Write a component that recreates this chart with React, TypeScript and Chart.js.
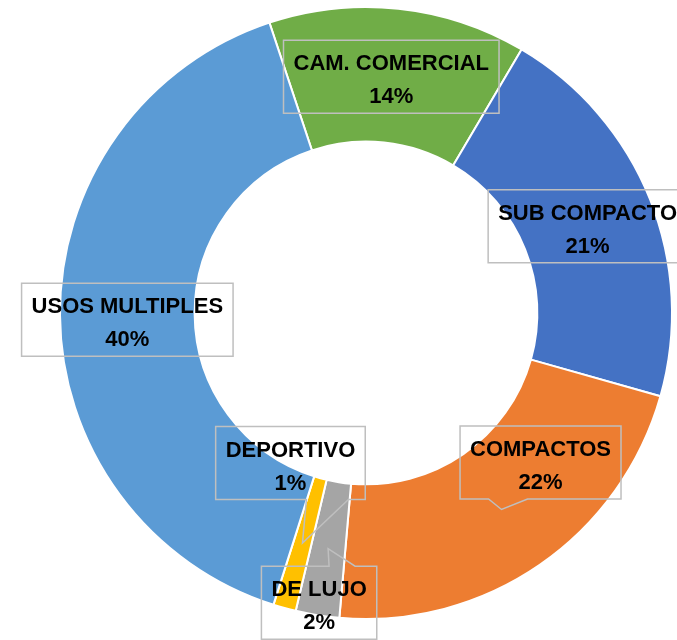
import React, { useEffect, useRef } from "react";
import { Chart, registerables } from "chart.js";

Chart.register(...registerables);

const categories = ["CAM. COMERCIAL", "SUB COMPACTO", "COMPACTOS", "DE LUJO", "DEPORTIVO", "USOS MULTIPLES"];
const values = [13.6, 20.9, 22.0, 2.3, 1.2, 40.0];
const colors = ["#70AD47", "#4472C4", "#ED7D31", "#A5A5A5", "#FFC000", "#5B9BD5"];

// label box layout: offset of box center from the slice's center point, and callout pointer
const labelLayout = [
  { dx: 0, dy: 1, pointer: null },
  { dx: 0, dy: 2, pointer: null },
  { dx: 39, dy: -47, pointer: { side: "bottom", from: -13, to: 26 } },
  { dx: -9, dy: 54, pointer: { side: "top", from: 1, to: 27 } },
  { dx: -12, dy: -80, pointer: { side: "bottom", from: 4, to: 46 } },
  { dx: 0, dy: 5, pointer: null },
];

const FONT = "bold 22px 'Liberation Sans', Arial, sans-serif";

const calloutPlugin = {
  id: "calloutLabels",
  afterDatasetsDraw(chart: any) {
    const ctx = chart.ctx;
    const meta = chart.getDatasetMeta(0);
    const data = chart.data.datasets[0].data as number[];
    const total = data.reduce((a, b) => a + b, 0);
    ctx.save();
    ctx.font = FONT;
    meta.data.forEach((arc: any, i: number) => {
      const tip = arc.getCenterPoint();
      const lay = labelLayout[i];
      const name = chart.data.labels[i] as string;
      const pct = Math.round((data[i] / total) * 100) + "%";
      const w = Math.max(ctx.measureText(name).width, ctx.measureText(pct).width) + 20;
      const h = 73;
      const cx = tip.x + lay.dx;
      const cy = tip.y + lay.dy;
      const l = cx - w / 2;
      const r = cx + w / 2;
      const t = cy - h / 2;
      const b = cy + h / 2;
      ctx.beginPath();
      const p = lay.pointer;
      if (p && p.side === "top") {
        ctx.moveTo(l, t);
        ctx.lineTo(tip.x + p.from, t);
        ctx.lineTo(tip.x, tip.y);
        ctx.lineTo(tip.x + p.to, t);
        ctx.lineTo(r, t);
        ctx.lineTo(r, b);
        ctx.lineTo(l, b);
        ctx.closePath();
      } else if (p && p.side === "bottom") {
        ctx.moveTo(l, t);
        ctx.lineTo(r, t);
        ctx.lineTo(r, b);
        ctx.lineTo(tip.x + p.to, b);
        ctx.lineTo(tip.x, tip.y);
        ctx.lineTo(tip.x + p.from, b);
        ctx.lineTo(l, b);
        ctx.closePath();
      } else {
        ctx.rect(l, t, w, h);
      }
      ctx.strokeStyle = "#BFBFBF";
      ctx.lineWidth = 1.5;
      ctx.stroke();
      ctx.fillStyle = "#000000";
      ctx.textAlign = "center";
      ctx.textBaseline = "alphabetic";
      ctx.fillText(name, cx, t + 30);
      ctx.fillText(pct, cx, t + 63);
    });
    ctx.restore();
  },
};

export default function App() {
  const ref = useRef<HTMLCanvasElement>(null);
  useEffect(() => {
    if (!ref.current) return;
    const chart = new Chart(ref.current, {
      type: "doughnut",
      data: {
        labels: categories,
        datasets: [
          {
            data: values,
            backgroundColor: colors,
            borderColor: "#FFFFFF",
            borderWidth: 2,
          },
        ],
      },
      options: {
        animation: false,
        responsive: true,
        maintainAspectRatio: false,
        rotation: -18.4,
        cutout: "56%",
        events: [],
        layout: { padding: { left: 59, right: 4, top: 6, bottom: 20 } },
        plugins: {
          legend: { display: false },
          tooltip: { enabled: false },
        },
      },
      plugins: [calloutPlugin],
    });
    return () => chart.destroy();
  }, []);
  return (
    <div style={{ position: "fixed", left: 0, top: 0, width: 677, height: 640, background: "#fff" }}>
      <canvas ref={ref} />
    </div>
  );
}
